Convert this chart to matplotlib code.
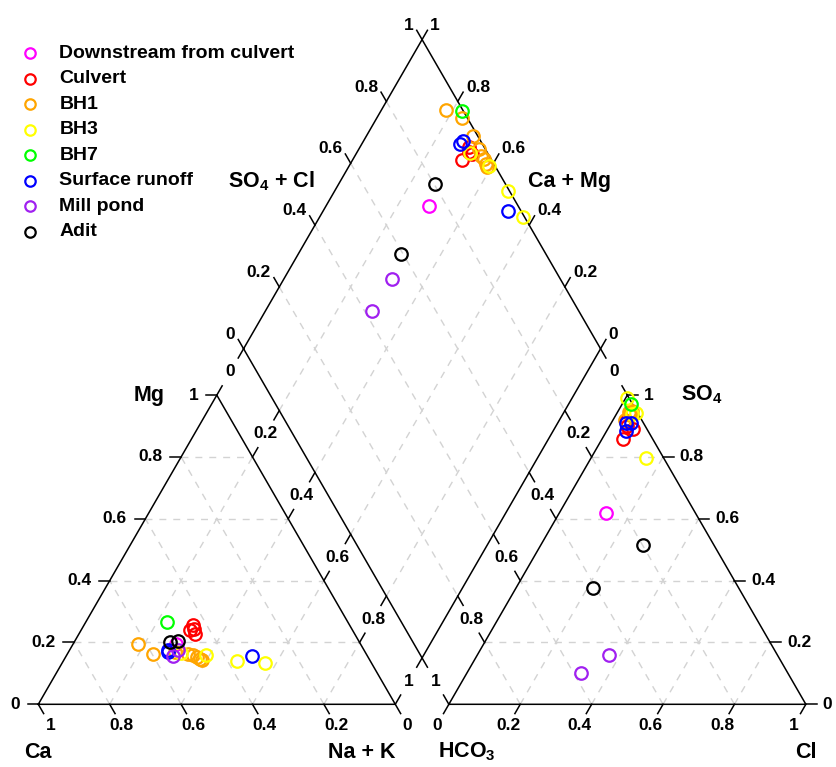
import numpy as np
import matplotlib
matplotlib.use("Agg")
import matplotlib.pyplot as plt

plt.rcParams["font.family"] = ["Liberation Sans", "DejaVu Sans"]
plt.rcParams["font.weight"] = "bold"
plt.rcParams["mathtext.fontset"] = "custom"
plt.rcParams["mathtext.rm"] = "Liberation Sans:bold"
plt.rcParams["mathtext.it"] = "Liberation Sans:bold"
plt.rcParams["mathtext.bf"] = "Liberation Sans:bold"
plt.rcParams["mathtext.default"] = "rm"

# ---- data -------------------------------------------------------------
groups = ["Downstream from culvert", "Culvert", "BH1", "BH3", "BH7",
          "Surface runoff", "Mill pond", "Adit"]
colors = ["#FF00FF", "#FF0000", "#FFA500", "#FFFF00", "#00FF00",
          "#0000FF", "#A020F0", "#000000"]

# sample group index and milliequivalent fractions
grp = [0,
       1, 1, 1, 1,
       2, 2, 2, 2, 2, 2, 2, 2,
       3, 3, 3, 3,
       4,
       5, 5, 5,
       6, 6,
       7, 7]
mg  = [0.195,
       0.255, 0.239, 0.228, 0.245,
       0.196, 0.163, 0.170, 0.163, 0.158, 0.153, 0.147, 0.142,
       0.158, 0.139, 0.132, 0.165,
       0.266,
       0.176, 0.169, 0.155,
       0.175, 0.155,
       0.200, 0.206]
nak = [0.289,
       0.306, 0.305, 0.325, 0.315,
       0.182, 0.240, 0.299, 0.338, 0.355, 0.367, 0.379, 0.388,
       0.392, 0.486, 0.569, 0.318,
       0.227,
       0.276, 0.279, 0.520,
       0.305, 0.300,
       0.269, 0.288]
so4 = [0.619,
       0.889, 0.857, 0.916, 0.900,
       0.920, 0.948, 0.950, 0.943, 0.945, 0.940, 0.938, 0.935,
       0.940, 0.990, 0.943, 0.797,
       0.970,
       0.884, 0.911, 0.910,
       0.158, 0.100,
       0.516, 0.377]
cl  = [0.131,
       0.070, 0.060, 0.038, 0.050,
       0.034, 0.038, 0.036, 0.040, 0.032, 0.040, 0.040, 0.040,
       0.042, 0.005, 0.053, 0.155,
       0.025,
       0.054, 0.040, 0.054,
       0.371, 0.3215,
       0.287, 0.2165]

ticks = [0, 0.2, 0.4, 0.6, 0.8, 1]
tick_lbl = ["0", "0.2", "0.4", "0.6", "0.8", "1"]

# ---- geometry ---------------------------------------------------------
G = 0.15
H = np.sqrt(3) / 2
T = 0.03          # tick length
GRID = dict(color="#D3D3D3", lw=1.0, ls=(0, (5, 5)), zorder=1)
EDGE = dict(color="black", lw=1.1, zorder=2)
TFS = 12.5


def cat_xy(m, n):
    return n + 0.5 * m, H * m


def an_xy(s, c):
    return 1 + G + c + 0.5 * s, H * s


def dia_xy(n, b):
    return (n + 1 + G + b) / 2, H * (1 + G + b - n)


fig = plt.figure(figsize=(8.36, 7.67), dpi=100)
ax = fig.add_axes([0, 0, 1, 1])
ax.set_xlim(-38.3 / 357, (836 - 38.3) / 357)
ax.set_ylim((704.3 - 767) / 357, 704.3 / 357)
ax.axis("off")


def seg(p, q, **kw):
    ax.plot([p[0], q[0]], [p[1], q[1]], **kw)


# grid
for v in [0.2, 0.4, 0.6, 0.8]:
    seg(cat_xy(v, 0), cat_xy(v, 1 - v), **GRID)
    seg(cat_xy(0, v), cat_xy(1 - v, v), **GRID)
    seg(cat_xy(0, 1 - v), cat_xy(1 - v, 0), **GRID)
    seg(an_xy(v, 0), an_xy(v, 1 - v), **GRID)
    seg(an_xy(0, v), an_xy(1 - v, v), **GRID)
    seg(an_xy(0, 1 - v), an_xy(1 - v, 0), **GRID)
    seg(dia_xy(v, 0), dia_xy(v, 1), **GRID)
    seg(dia_xy(0, v), dia_xy(1, v), **GRID)

# outlines
for pts in [[cat_xy(0, 0), cat_xy(0, 1), cat_xy(1, 0), cat_xy(0, 0)],
            [an_xy(0, 0), an_xy(0, 1), an_xy(1, 0), an_xy(0, 0)],
            [dia_xy(0, 0), dia_xy(0, 1), dia_xy(1, 1), dia_xy(1, 0), dia_xy(0, 0)]]:
    xs, ys = zip(*pts)
    ax.plot(xs, ys, **EDGE)

up_r = np.array([0.5, H])
up_l = np.array([-0.5, H])

for v, lab in zip(ticks, tick_lbl):
    # Mg, left edge of cation triangle
    p = np.array(cat_xy(v, 0))
    seg(p, p + [-T, 0], **EDGE)
    ax.text(p[0] - T - 0.022, p[1], lab, ha="right", va="center", fontsize=TFS)
    # Ca, bottom
    p = np.array(cat_xy(0, 1 - v))
    seg(p, p - up_l * T, **EDGE)
    q = p - up_l * 0.068
    ax.text(q[0], q[1], lab, ha="center", va="center", fontsize=TFS)
    # Na + K, between triangle and diamond
    p = np.array(cat_xy(1 - v, v))
    d = np.array(dia_xy(v, 0))
    seg(p, p + up_r * T, **EDGE)
    seg(d, d - up_r * T, **EDGE)
    q = (p + d) / 2
    ax.text(q[0], q[1], lab, ha="center", va="center", fontsize=TFS)
    # SO4, right edge of anion triangle
    p = np.array(an_xy(v, 1 - v))
    seg(p, p + [T, 0], **EDGE)
    ax.text(p[0] + T + 0.017, p[1], lab, ha="left", va="center", fontsize=TFS)
    # Cl, bottom
    p = np.array(an_xy(0, v))
    seg(p, p - up_r * T, **EDGE)
    q = p - up_r * 0.068
    ax.text(q[0], q[1], lab, ha="center", va="center", fontsize=TFS)
    # HCO3, between anion triangle and diamond
    p = np.array(an_xy(1 - v, 0))
    d = np.array(dia_xy(1, 1 - v))
    seg(p, p + up_l * T, **EDGE)
    seg(d, d - up_l * T, **EDGE)
    q = (p + d) / 2
    ax.text(q[0], q[1], lab, ha="center", va="center", fontsize=TFS)
    # SO4 + Cl, upper-left of diamond
    p = np.array(dia_xy(0, v))
    e = p + up_l * T
    seg(p, e, **EDGE)
    ax.text(e[0] - 0.008, e[1] + 0.014, lab, ha="right", va="center", fontsize=TFS)
    # Ca + Mg, upper-right of diamond
    p = np.array(dia_xy(1 - v, 1))
    e = p + up_r * T
    seg(p, e, **EDGE)
    ax.text(e[0] + 0.008, e[1] + 0.014, lab, ha="left", va="center", fontsize=TFS)

# axis titles
AFS = 15.5
ax.text(0, -0.134, "Ca", ha="center", va="center", fontsize=AFS)
ax.text(1.0, -0.134, "Na + K", ha="right", va="center", fontsize=AFS)
ax.text(1.12, -0.134, "HCO$_3$", ha="left", va="center", fontsize=AFS)
ax.text(2 + G, -0.134, "Cl", ha="center", va="center", fontsize=AFS)
ax.text(0.353, H, "Mg", ha="right", va="center", fontsize=AFS)
ax.text(1.80, H, "SO$_4$", ha="left", va="center", fontsize=AFS)
ax.text(0.53, 1.464, "SO$_4$ + Cl", ha="left", va="center", fontsize=AFS)
ax.text(1.372, 1.464, "Ca + Mg", ha="left", va="center", fontsize=AFS)

# ---- samples ----------------------------------------------------------
mg = np.array(mg); nak = np.array(nak); so4 = np.array(so4); cl = np.array(cl)
grp = np.array(grp)
for gi, col in enumerate(colors):
    k = grp == gi
    cx, cy = cat_xy(mg[k], nak[k])
    axx, axy = an_xy(so4[k], cl[k])
    dx, dy = dia_xy(nak[k], so4[k] + cl[k])
    for xs, ys in [(cx, cy), (axx, axy), (dx, dy)]:
        ax.plot(xs, ys, "o", mfc="none", mec=col, ms=9, mew=1.6, ls="none", zorder=3)

# legend
for i, (name, col) in enumerate(zip(groups, colors)):
    yy = (704.3 - (53.3 + 25.5 * i)) / 357
    ax.plot([-0.0232], [yy], "o", mfc="none", mec=col, ms=7.5, mew=1.6, clip_on=False)
    ax.text(0.0588, yy, name, ha="left", va="center", fontsize=14)

fig.savefig("out.png", dpi=100)
